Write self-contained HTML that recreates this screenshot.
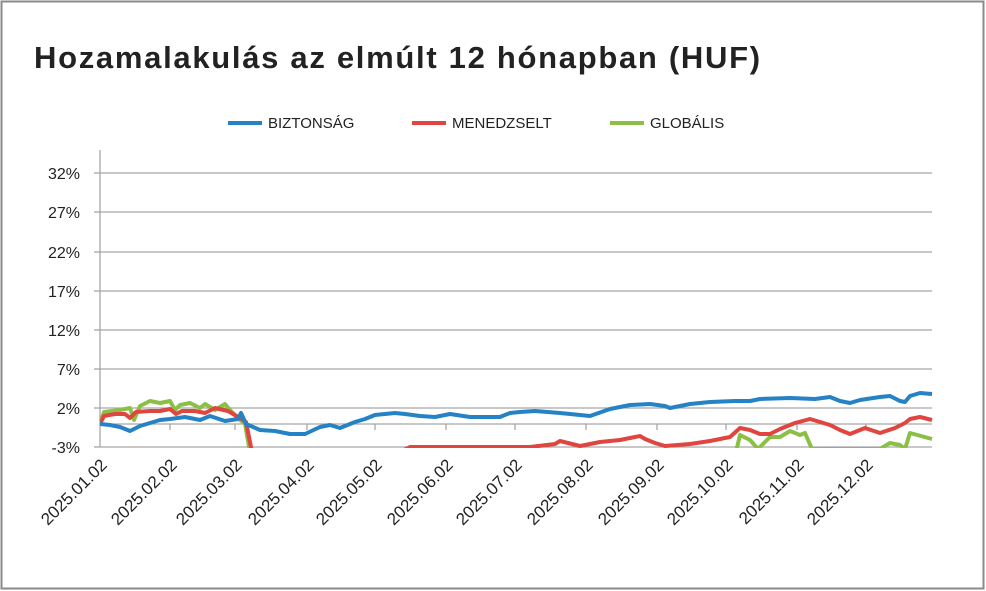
<!DOCTYPE html>
<html><head><meta charset="utf-8"><style>
html,body{margin:0;padding:0;background:#fff}
svg{display:block}
text{font-family:"Liberation Sans",sans-serif}
</style></head><body>
<svg width="986" height="591" viewBox="0 0 986 591" xmlns="http://www.w3.org/2000/svg">
<rect x="1.5" y="1.5" width="982" height="587" fill="#fff" stroke="#8a8a8a" stroke-width="2"/>
<text x="34" y="68" font-size="31" font-weight="bold" letter-spacing="1.7" fill="#222">Hozamalakulás az elmúlt 12 hónapban (HUF)</text>
<g font-size="15" fill="#222">
<line x1="228" y1="123" x2="262" y2="123" stroke="#2482c5" stroke-width="4"/><text x="268" y="128">BIZTONSÁG</text>
<line x1="412" y1="123" x2="446" y2="123" stroke="#e0453f" stroke-width="4"/><text x="452" y="128">MENEDZSELT</text>
<line x1="610" y1="123" x2="644" y2="123" stroke="#8cbf45" stroke-width="4"/><text x="650" y="128">GLOBÁLIS</text>
</g>
<g stroke="#a6a6a6" stroke-width="1.3">
<line x1="100" y1="173" x2="932" y2="173"/><line x1="100" y1="212" x2="932" y2="212"/>
<line x1="100" y1="252" x2="932" y2="252"/><line x1="100" y1="291" x2="932" y2="291"/>
<line x1="100" y1="330" x2="932" y2="330"/><line x1="100" y1="369" x2="932" y2="369"/>
<line x1="100" y1="408" x2="932" y2="408"/><line x1="100" y1="447" x2="932" y2="447"/>
<line x1="100" y1="150" x2="100" y2="447"/>
<line x1="94" y1="173" x2="100" y2="173"/><line x1="94" y1="212" x2="100" y2="212"/><line x1="94" y1="252" x2="100" y2="252"/><line x1="94" y1="291" x2="100" y2="291"/><line x1="94" y1="330" x2="100" y2="330"/><line x1="94" y1="369" x2="100" y2="369"/><line x1="94" y1="408" x2="100" y2="408"/><line x1="94" y1="447" x2="100" y2="447"/>
<line x1="100" y1="424" x2="932" y2="424"/>
<line x1="170" y1="424" x2="170" y2="430"/><line x1="235" y1="424" x2="235" y2="430"/><line x1="307" y1="424" x2="307" y2="430"/><line x1="375" y1="424" x2="375" y2="430"/><line x1="446" y1="424" x2="446" y2="430"/><line x1="515" y1="424" x2="515" y2="430"/><line x1="586" y1="424" x2="586" y2="430"/><line x1="657" y1="424" x2="657" y2="430"/><line x1="726" y1="424" x2="726" y2="430"/><line x1="797" y1="424" x2="797" y2="430"/><line x1="866" y1="424" x2="866" y2="430"/>
</g>
<g font-size="16" fill="#222" text-anchor="end">
<text x="80" y="179">32%</text><text x="80" y="218">27%</text><text x="80" y="258">22%</text><text x="80" y="297">17%</text><text x="80" y="336">12%</text><text x="80" y="375">7%</text><text x="80" y="414">2%</text><text x="80" y="453">-3%</text>
</g>
<g font-size="17" fill="#222" text-anchor="end">
<text transform="translate(108,466) rotate(-45)">2025.01.02</text>
<text transform="translate(178,466) rotate(-45)">2025.02.02</text>
<text transform="translate(243,466) rotate(-45)">2025.03.02</text>
<text transform="translate(315,466) rotate(-45)">2025.04.02</text>
<text transform="translate(383,466) rotate(-45)">2025.05.02</text>
<text transform="translate(454,466) rotate(-45)">2025.06.02</text>
<text transform="translate(523,466) rotate(-45)">2025.07.02</text>
<text transform="translate(594,466) rotate(-45)">2025.08.02</text>
<text transform="translate(665,466) rotate(-45)">2025.09.02</text>
<text transform="translate(734,466) rotate(-45)">2025.10.02</text>
<text transform="translate(805,466) rotate(-45)">2025.11.02</text>
<text transform="translate(874,466) rotate(-45)">2025.12.02</text>
</g>
<defs><clipPath id="c"><rect x="100" y="150" width="834" height="298"/></clipPath></defs>
<g clip-path="url(#c)" fill="none" stroke-width="4" stroke-linejoin="round">
<polyline stroke="#8cbf45" points="100,424 104,412 120,410 130,408 134,420 140,406 150,401 160,403 170,401 175,410 180,405 190,403 200,408 205,404 215,410 225,404 230,410 240,420 245,424 250,452 736,452 740,435 750,440 758,449 770,437 780,437 790,431 800,435 805,433 812,449 880,449 890,443 900,445 905,449 910,433 932,439"/>
<polyline stroke="#e0453f" points="100,424 104,416 115,414 125,414 130,418 136,412 150,411 160,411 170,409 176,414 182,411 195,411 205,413 215,408 228,411 240,418 246,422 252,452 400,452 410,447 420,447 530,447 555,444 560,441 580,446 600,442 620,440 640,436 645,439 655,443 665,446 690,444 710,441 730,437 740,428 750,430 760,434 770,434 780,429 795,423 810,419 820,422 830,425 840,430 850,434 865,428 880,433 895,428 905,423 910,419 920,417 932,420"/>
<polyline stroke="#2482c5" points="100,424 110,425 120,427 130,431 140,426 150,423 160,420 170,419 185,417 200,420 210,416 225,421 238,419 241,413 246,424 260,430 275,431 290,434 305,434 320,427 330,425 340,428 355,422 365,419 375,415 385,414 395,413 405,414 420,416 435,417 450,414 470,417 490,417 500,417 510,413 520,412 535,411 560,413 580,415 590,416 610,409 630,405 650,404 665,406 670,408 690,404 710,402 735,401 750,401 760,399 790,398 815,399 830,397 840,401 850,403 860,400 880,397 890,396 900,401 905,402 910,396 920,393 932,394"/>
</g>
</svg>
</body></html>
